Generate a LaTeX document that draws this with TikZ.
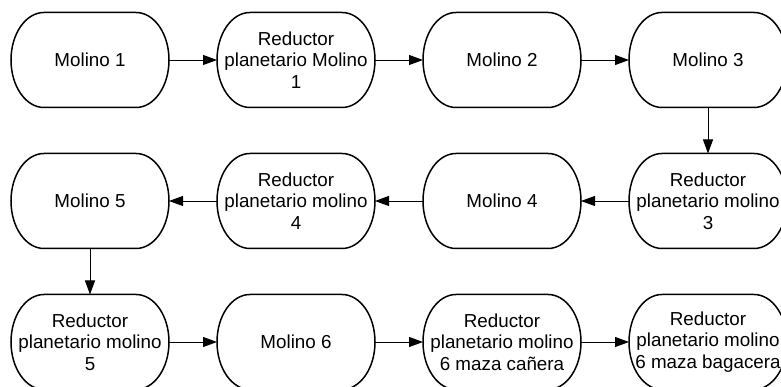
\documentclass[tikz,border=0pt]{standalone}
\usepackage{fontspec}
\setmainfont{Liberation Sans}
\usepackage{tikz}
\usetikzlibrary{arrows.meta,calc}
\tikzset{
  flowarrow/.style={-{Triangle[length=14pt,width=10pt]}, line width=0.9pt, draw=black},
  millbox/.style={line width=1.5pt, draw=black}
}

\begin{document}
\begin{tikzpicture}[
  x=1pt, y=1pt,
  box/.style={minimum width=158pt, minimum height=95pt, inner sep=1pt, outer sep=0pt,
    align=center, font=\fontsize{18.8}{21.5}\selectfont}
]
\useasboundingbox (0,0) rectangle (781,387);
\clip (0,0) rectangle (781,387);
\fill[white] (0,0) rectangle (781,387);

\node[box] at (90,327) (m1) {Molino 1};
\node[box] at (296,327) (red1) {Reductor\\planetario Molino\\1};
\node[box] at (502,327) (m2) {Molino 2};
\node[box] at (708,327) (m3) {Molino 3};
\node[box] at (708,186) (red3) {Reductor\\planetario molino\\3};
\node[box] at (502,186) (m4) {Molino 4};
\node[box] at (296,186) (red4) {Reductor\\planetario molino\\4};
\node[box] at (90,186) (m5) {Molino 5};
\node[box] at (90,45) (red5) {Reductor\\planetario molino\\5};
\node[box] at (296,45) (m6) {Molino 6};
\node[box] at (502,45) (red6c) {Reductor\\planetario molino\\6 maza cañera};
\node[box] at (708,45) (red6b) {Reductor\\planetario molino\\6 maza bagacera};

% stadium outlines with elliptical ends
\foreach \n in {m1,red1,m2,m3,red3,m4,red4,m5,red5,m6,red6c,red6b}
  \draw[millbox] ([xshift=33pt]\n.north west) -- ([xshift=-33pt]\n.north east)
    arc[start angle=90, end angle=-90, x radius=33pt, y radius=47.5pt]
    -- ([xshift=33pt]\n.south west)
    arc[start angle=270, end angle=90, x radius=33pt, y radius=47.5pt] -- cycle;

% snake through the mills: right, down, left, down, right
\draw[flowarrow] (m1.east) -- (red1.west);
\draw[flowarrow] (red1.east) -- (m2.west);
\draw[flowarrow] (m2.east) -- (m3.west);
\draw[flowarrow] (m3.south) -- (red3.north);
\draw[flowarrow] (red3.west) -- (m4.east);
\draw[flowarrow] (m4.west) -- (red4.east);
\draw[flowarrow] (red4.west) -- (m5.east);
\draw[flowarrow] (m5.south) -- (red5.north);
\draw[flowarrow] (red5.east) -- (m6.west);
\draw[flowarrow] (m6.east) -- (red6c.west);
\draw[flowarrow] (red6c.east) -- (red6b.west);
\end{tikzpicture}
\end{document}
